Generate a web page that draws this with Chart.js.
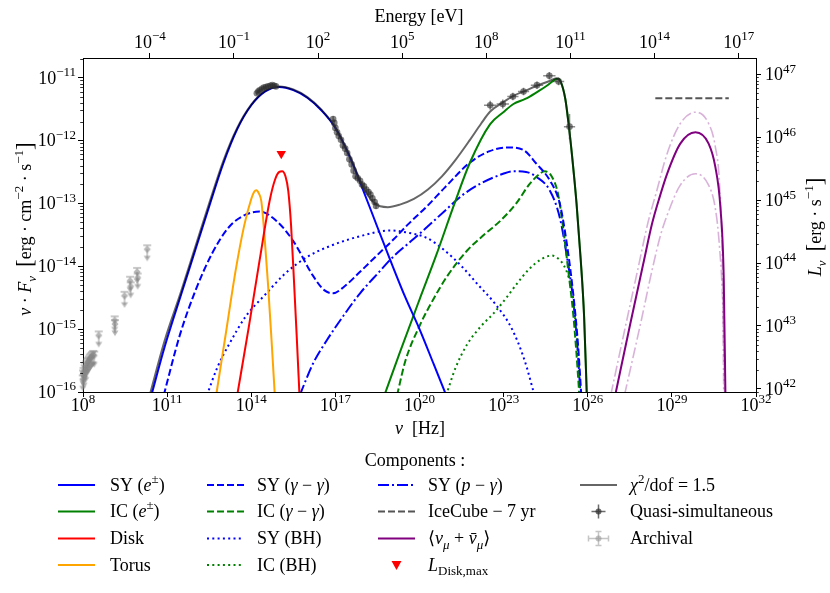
<!DOCTYPE html>
<html>
<head>
<meta charset="utf-8">
<script src="https://cdn.jsdelivr.net/npm/chart.js@4.4.0/dist/chart.umd.min.js"></script>
<style>
  html, body { margin: 0; background: #fff; }
  #wrap { width: 830px; height: 593px; }
</style>
</head>
<body>
<div id="wrap"><canvas id="sed" width="830" height="593"></canvas></div>
<script>
// all values are log10(nu / Hz), log10(nuFnu / erg cm-2 s-1)
const SY_E = [[10.44,-16.05],[10.9,-15.3],[11.5,-14.45],[12.0,-13.75],[12.5,-13.05],[13.0,-12.37],[13.5,-11.82],[14.0,-11.44],[14.5,-11.22],[15.0,-11.15],[15.5,-11.2],[16.0,-11.32],[16.5,-11.52],[17.0,-11.8],[17.5,-12.25],[18.0,-12.8],[18.5,-13.38],[19.0,-13.95],[19.5,-14.5],[20.0,-15.0],[20.5,-15.55],[20.95,-16.05]]
const IC_E = [[18.75,-16.05],[19.3,-15.37],[20.0,-14.53],[20.6,-13.82],[21.25,-13.0],[21.8,-12.35],[22.52,-11.74],[22.99,-11.55],[23.35,-11.42],[23.77,-11.34],[24.19,-11.23],[24.54,-11.13],[24.84,-11.03],[24.95,-11.02],[25.04,-11.07],[25.2,-11.34],[25.31,-11.71],[25.44,-12.24],[25.6,-13.0],[25.75,-13.9],[25.87,-14.8],[25.97,-16.1]]
const DISK = [[13.5,-16.05],[13.9,-15.0],[14.3,-13.9],[14.66,-12.95],[14.85,-12.62],[15.0,-12.5],[15.1,-12.49],[15.22,-12.57],[15.32,-12.8],[15.42,-13.35],[15.52,-14.2],[15.62,-15.1],[15.72,-16.05]]
const TORUS = [[12.75,-16.05],[13.1,-15.05],[13.45,-14.05],[13.75,-13.35],[14.0,-12.93],[14.1,-12.82],[14.18,-12.79],[14.27,-12.84],[14.36,-12.97],[14.47,-13.5],[14.6,-14.3],[14.72,-15.15],[14.84,-16.05]]
const SY_GG = [[10.88,-16.05],[11.45,-15.1],[12.0,-14.4],[12.6,-13.8],[13.2,-13.38],[13.8,-13.18],[14.3,-13.13],[14.9,-13.28],[15.5,-13.6],[16.2,-14.15],[16.6,-14.38],[16.92,-14.43],[17.3,-14.33],[17.9,-14.08],[18.5,-13.82],[19.06,-13.58],[19.6,-13.33],[20.26,-13.05],[20.9,-12.75],[21.8,-12.35],[22.5,-12.17],[23.15,-12.11],[23.7,-12.15],[24.17,-12.37],[24.64,-12.63],[25.0,-13.0],[25.24,-13.6],[25.48,-14.43],[25.65,-15.23],[25.77,-16.05]]
const IC_GG = [[19.2,-16.05],[19.5,-15.5],[20.0,-14.95],[20.5,-14.52],[21.0,-14.15],[21.7,-13.75],[22.3,-13.5],[22.9,-13.27],[23.45,-13.0],[23.93,-12.69],[24.29,-12.53],[24.46,-12.49],[24.7,-12.56],[24.94,-12.85],[25.12,-13.38],[25.3,-14.05],[25.48,-14.75],[25.6,-15.4],[25.7,-16.05]]
const SY_BH = [[12.42,-16.05],[12.8,-15.6],[13.2,-15.25],[13.8,-14.8],[14.5,-14.45],[15.2,-14.12],[16.0,-13.85],[16.8,-13.68],[17.9,-13.52],[18.95,-13.43],[19.5,-13.46],[20.26,-13.55],[20.9,-13.75],[21.5,-14.0],[22.1,-14.3],[22.7,-14.6],[23.3,-15.0],[23.75,-15.5],[24.1,-16.05]]
const IC_BH = [[20.95,-16.05],[21.3,-15.6],[21.69,-15.25],[22.2,-14.95],[22.64,-14.75],[23.1,-14.5],[23.47,-14.28],[23.9,-14.05],[24.3,-13.9],[24.72,-13.83],[25.0,-13.9],[25.14,-13.98],[25.3,-14.15],[25.43,-14.38],[25.53,-14.75],[25.61,-15.1],[25.68,-15.6],[25.73,-16.05]]
const SY_PG = [[15.73,-16.05],[16.2,-15.55],[16.69,-15.18],[17.3,-14.78],[17.88,-14.43],[18.5,-14.12],[19.06,-13.85],[19.7,-13.6],[20.26,-13.38],[20.9,-13.12],[21.5,-12.88],[22.2,-12.68],[22.98,-12.53],[23.33,-12.49],[23.8,-12.5],[24.17,-12.58],[24.64,-12.79],[25.0,-13.22],[25.24,-13.8],[25.48,-14.54],[25.65,-15.39],[25.74,-16.05]]
const TOTAL = [[10.38,-16.05],[10.9,-15.2],[11.5,-14.4],[12.0,-13.7],[12.5,-13.0],[13.0,-12.33],[13.5,-11.8],[14.0,-11.43],[14.5,-11.21],[15.0,-11.14],[15.5,-11.19],[16.0,-11.31],[16.5,-11.51],[17.0,-11.79],[17.5,-12.23],[18.0,-12.75],[18.4,-13.0],[18.87,-13.06],[19.3,-13.02],[19.8,-12.93],[20.3,-12.78],[20.8,-12.57],[21.3,-12.3],[21.8,-11.99],[22.2,-11.73],[22.52,-11.54],[22.99,-11.39],[23.35,-11.29],[23.77,-11.21],[24.19,-11.13],[24.66,-11.05],[24.88,-11.01],[25.04,-11.07],[25.2,-11.34],[25.31,-11.71],[25.44,-12.24],[25.6,-13.0],[25.75,-13.9],[25.87,-14.8],[25.97,-16.1]]
const NU_MEAN = [[26.98,-16.05],[27.5,-14.95],[28.0,-13.92],[28.29,-13.33],[28.53,-12.95],[28.83,-12.53],[29.3,-12.05],[29.84,-11.87],[30.31,-12.05],[30.55,-12.42],[30.73,-13.06],[30.85,-14.2],[30.91,-16.05]]
const NU_HI = [[26.82,-16.05],[27.3,-15.05],[27.8,-14.02],[28.15,-13.3],[28.45,-12.82],[28.83,-12.21],[29.3,-11.73],[29.84,-11.55],[30.31,-11.73],[30.55,-12.1],[30.7,-12.7],[30.8,-14.0],[30.85,-16.05]]
const NU_LO = [[27.31,-16.05],[27.9,-14.88],[28.3,-14.05],[28.6,-13.5],[28.83,-13.19],[29.3,-12.71],[29.84,-12.53],[30.31,-12.71],[30.55,-13.08],[30.7,-13.7],[30.82,-14.7],[30.88,-16.05]]
const ICECUBE = [[28.41,-11.33],[31.03,-11.33]]
const LDISK_MAX = [[15.07,-12.21]]

// quasi-simultaneous data: centre and half error bars (in dex)
const QS_NU = [14.2,14.25,14.3,14.38,14.45,14.52,14.6,14.68,14.75,14.82,14.88,16.92,16.96,17.0,17.06,17.12,17.2,17.27,17.35,17.42,17.5,17.58,17.65,17.72,17.8,17.88,17.95,18.02,18.1,18.18,18.25,18.32,18.4,18.45,22.52,22.97,23.33,23.71,24.19,24.63,24.96,25.35]
const QS_F = [-11.25,-11.22,-11.2,-11.18,-11.16,-11.15,-11.14,-11.13,-11.12,-11.13,-11.14,-11.66,-11.72,-11.8,-11.87,-11.93,-11.99,-12.08,-12.13,-12.2,-12.3,-12.38,-12.48,-12.57,-12.6,-12.64,-12.7,-12.73,-12.78,-12.82,-12.86,-12.92,-12.98,-13.04,-11.44,-11.42,-11.3,-11.22,-11.12,-10.97,-11.06,-11.78]
const QS_DNU = [0,0,0,0,0,0,0,0,0,0,0,0,0,0,0,0,0,0,0,0,0,0,0,0,0,0,0,0,0,0,0,0,0,0,0.22,0.22,0.2,0.2,0.22,0.22,0.2,0.2]
const QS_DF = [0.03,0.03,0.03,0.03,0.03,0.03,0.03,0.03,0.03,0.03,0.03,0.05,0.05,0.05,0.05,0.05,0.05,0.05,0.05,0.05,0.05,0.05,0.05,0.05,0.05,0.05,0.05,0.05,0.05,0.05,0.05,0.05,0.05,0.05,0.07,0.07,0.06,0.06,0.06,0.06,0.06,0.2]

// archival upper limits
const AR_NU = [7.99,8.0,8.02,8.04,8.06,8.08,8.1,8.12,8.15,8.18,8.21,8.24,8.28,8.32,8.36,8.4,8.56,9.13,9.14,9.48,9.68,9.7,9.93,9.95,10.29]
const AR_F = [-15.8,-15.72,-15.68,-15.75,-15.64,-15.6,-15.66,-15.57,-15.54,-15.52,-15.5,-15.47,-15.45,-15.43,-15.41,-15.42,-15.1,-14.86,-14.92,-14.47,-14.23,-14.32,-14.09,-14.18,-13.73]

const NU_TICKS = [8, 11, 14, 17, 20, 23, 26, 29, 32]
const E_TICKS = [-4, -1, 2, 5, 8, 11, 14, 17]
const F_TICKS = [-16, -15, -14, -13, -12, -11]
const L_TICKS = [42, 43, 44, 45, 46, 47]

const H_EV = 4.1357e-15   // eV s
const K_LUM = 8.9e57      // nuFnu -> L_nu
const F_MIN = 1e-16, F_MAX = 2.05e-11

const FONT = '"Liberation Serif", "DejaVu Serif", serif'
const FS = 18

const xy = (arr) => arr.map(([a, b]) => ({ x: 10 ** a, y: 10 ** b }))

function curve(label, data, color, dash, width, order) {
  return {
    label: label,
    data: xy(data),
    showLine: true,
    borderColor: color,
    backgroundColor: color,
    borderWidth: width || 2,
    borderDash: dash || [],
    pointRadius: 0,
    cubicInterpolationMode: "monotone",
    order: order || 5,
  }
}

const DASH = [7, 3]
const DOT = [2, 3.3]
const DASHDOT = [11, 3, 2, 3]

// upper limit marker: small diamond with a caret pointing down
function limitIcon() {
  const c = document.createElement("canvas")
  c.width = 10
  c.height = 26
  const g = c.getContext("2d")
  g.fillStyle = g.strokeStyle = "rgba(135,135,135,0.6)"
  g.lineWidth = 1.4
  g.beginPath()
  g.moveTo(5, 13); g.lineTo(5, 22)
  g.moveTo(1, 9); g.lineTo(9, 9)
  g.stroke()
  g.beginPath()
  g.moveTo(1.5, 19.5); g.lineTo(8.5, 19.5); g.lineTo(5, 25); g.closePath()
  g.fill()
  g.beginPath()
  g.moveTo(5, 9); g.lineTo(8.5, 13); g.lineTo(5, 17); g.lineTo(1.5, 13); g.closePath()
  g.fill()
  return c
}

// error bars as one broken line
const errPts = []
QS_NU.forEach((n, i) => {
  const f = QS_F[i]
  if (QS_DNU[i] > 0) {
    errPts.push({ x: 10 ** (n - QS_DNU[i]), y: 10 ** f }, { x: 10 ** (n + QS_DNU[i]), y: 10 ** f }, { x: 10 ** n, y: NaN })
  }
  errPts.push({ x: 10 ** n, y: 10 ** (f - QS_DF[i]) }, { x: 10 ** n, y: 10 ** (f + QS_DF[i]) }, { x: 10 ** n, y: NaN })
})

const datasets = [
  {
    label: "Quasi-simultaneous",
    data: QS_NU.map((n, i) => ({ x: 10 ** n, y: 10 ** QS_F[i] })),
    pointRadius: 3.3,
    pointBackgroundColor: "rgba(45,45,45,0.6)",
    pointBorderWidth: 0,
    order: 1,
  },
  {
    label: "qs err",
    data: errPts,
    showLine: true,
    spanGaps: false,
    borderColor: "rgba(45,45,45,0.55)",
    borderWidth: 1.5,
    pointRadius: 0,
    order: 1,
  },
  {
    label: "Archival",
    data: AR_NU.map((n, i) => ({ x: 10 ** n, y: 10 ** AR_F[i] })),
    pointStyle: limitIcon(),
    pointRadius: 5,
    clip: 8,
    order: 1,
  },
  {
    label: "L Disk max",
    data: xy(LDISK_MAX),
    pointStyle: "triangle",
    rotation: 180,
    pointRadius: 5.5,
    pointBackgroundColor: "#ff0000",
    pointBorderWidth: 0,
    order: 1,
  },
  curve("total", TOTAL, "rgba(0,0,0,0.6)", [], 2, 2),
  curve("SY e", SY_E, "#0000ff", [], 2, 4),
  curve("IC e", IC_E, "#008000", [], 2, 4),
  curve("Disk", DISK, "#ff0000", [], 2, 4),
  curve("Torus", TORUS, "#ffa500", [], 2, 4),
  curve("SY gg", SY_GG, "#0000ff", DASH, 2, 5),
  curve("IC gg", IC_GG, "#008000", DASH, 2, 5),
  curve("SY BH", SY_BH, "#0000ff", DOT, 2, 5),
  curve("IC BH", IC_BH, "#008000", DOT, 2, 5),
  curve("SY pg", SY_PG, "#0000ff", DASHDOT, 2, 5),
  curve("IceCube", ICECUBE, "#555555", DASH, 2, 5),
  curve("nu hi", NU_HI, "rgba(128,0,128,0.3)", DASHDOT, 1.6, 6),
  curve("nu lo", NU_LO, "rgba(128,0,128,0.3)", DASHDOT, 1.6, 6),
  curve("nu mean", NU_MEAN, "#800080", [], 2, 5),
]

// ---------- text helpers ----------
// parts: [text, flags] with space separated flags: i (italic), sup, sub, big, bar
function drawRich(ctx, parts, x, y, align, rot, size) {
  size = size || FS
  const small = Math.round(size * 0.7)
  let w = 0
  const items = parts.map((p) => {
    const fl = (p[1] || "").split(" ")
    const sc = fl.includes("sup") || fl.includes("sub")
    const px = sc ? small : fl.includes("big") ? Math.round(size * 1.3) : size
    const font = (fl.includes("i") ? "italic " : "") + px + "px " + FONT
    ctx.font = font
    const it = {
      t: p[0],
      font: font,
      bar: fl.includes("bar"),
      w: ctx.measureText(p[0]).width,
      dy: fl.includes("sup") ? -size * 0.42 : fl.includes("sub") ? size * 0.25 : fl.includes("big") ? size * 0.08 : 0,
    }
    w += it.w
    return it
  })
  let cx = align === "center" ? -w / 2 : align === "right" ? -w : 0
  ctx.save()
  ctx.translate(x, y)
  if (rot) ctx.rotate(rot)
  ctx.fillStyle = ctx.strokeStyle = "#000"
  ctx.textBaseline = "alphabetic"
  ctx.textAlign = "left"
  items.forEach((it) => {
    ctx.font = it.font
    ctx.fillText(it.t, cx, it.dy)
    if (it.bar) {
      ctx.lineWidth = 1
      ctx.beginPath()
      ctx.moveTo(cx + it.w * 0.3, it.dy - size * 0.58)
      ctx.lineTo(cx + it.w * 0.95, it.dy - size * 0.58)
      ctx.stroke()
    }
    cx += it.w
  })
  ctx.restore()
}

const expStr = (e) => (e < 0 ? "\u2212" + -e : "" + e)
const pow10 = (e) => [["10"], [expStr(e), "sup"]]

// legend entries: [column, row, label parts, kind, style]
const LEGEND = [
  [0, 0, [["SY ("], ["e", "i"], ["\u00b1", "sup"], [")"]], "line", ["#0000ff", []]],
  [0, 1, [["IC ("], ["e", "i"], ["\u00b1", "sup"], [")"]], "line", ["#008000", []]],
  [0, 2, [["Disk"]], "line", ["#ff0000", []]],
  [0, 3, [["Torus"]], "line", ["#ffa500", []]],
  [1, 0, [["SY ("], ["\u03b3", "i"], [" \u2212 "], ["\u03b3", "i"], [")"]], "line", ["#0000ff", DASH]],
  [1, 1, [["IC ("], ["\u03b3", "i"], [" \u2212 "], ["\u03b3", "i"], [")"]], "line", ["#008000", DASH]],
  [1, 2, [["SY (BH)"]], "line", ["#0000ff", DOT]],
  [1, 3, [["IC (BH)"]], "line", ["#008000", DOT]],
  [2, 0, [["SY ("], ["p", "i"], [" \u2212 "], ["\u03b3", "i"], [")"]], "line", ["#0000ff", DASHDOT]],
  [2, 1, [["IceCube \u2212 7 yr"]], "line", ["#555555", DASH]],
  [2, 2, [["\u27e8"], ["\u03bd", "i"], ["\u03bc", "i sub"], [" + "], ["\u03bd", "i bar"], ["\u03bc", "i sub"], ["\u27e9"]], "line", ["#800080", []]],
  [2, 3, [["L", "i"], ["Disk,max", "sub"]], "tri", ["#ff0000"]],
  [3, 0, [["\u03c7", "i"], ["2", "sup"], ["/dof = 1.5"]], "line", ["rgba(0,0,0,0.6)", []]],
  [3, 1, [["Quasi-simultaneous"]], "qs", ["rgba(45,45,45,0.7)"]],
  [3, 2, [["Archival"]], "ar", ["rgba(140,140,140,0.5)"]],
]
const COL_LINE = [58, 207, 378, 580]
const COL_TEXT = [110, 257, 428, 630]
const ROW_Y = [485, 511.5, 538.5, 565]

const decorations = {
  id: "decorations",
  afterDraw(chart) {
    const ctx = chart.ctx
    const a = chart.chartArea
    const s = chart.scales

    // minor ticks on the two flux axes
    ctx.save()
    ctx.strokeStyle = "#000"
    ctx.lineWidth = 0.8
    ;[["y", a.left, -1], ["y2", a.right, 1]].forEach(([id, x0, dir]) => {
      const sc = s[id]
      const lo = Math.floor(Math.log10(sc.min)), hi = Math.ceil(Math.log10(sc.max))
      for (let e = lo; e <= hi; e++) {
        for (let m = 2; m <= 9; m++) {
          const v = m * 10 ** e
          if (v < sc.min || v > sc.max) continue
          const py = Math.round(sc.getPixelForValue(v)) + 0.5
          ctx.beginPath()
          ctx.moveTo(x0, py)
          ctx.lineTo(x0 + dir * 2.8, py)
          ctx.stroke()
        }
      }
    })
    ctx.restore()

    // tick labels
    NU_TICKS.forEach((e) => drawRich(ctx, pow10(e), s.x.getPixelForValue(10 ** e), a.bottom + 19, "center"))
    E_TICKS.forEach((e) => drawRich(ctx, pow10(e), s.x2.getPixelForValue(10 ** e), a.top - 10, "center"))
    F_TICKS.forEach((e) => drawRich(ctx, pow10(e), a.left - 7, s.y.getPixelForValue(10 ** e) + 6, "right"))
    L_TICKS.forEach((e) => drawRich(ctx, pow10(e), a.right + 9, s.y2.getPixelForValue(10 ** e) + 6, "left"))

    // axis titles
    drawRich(ctx, [["Energy [eV]"]], 419, 22, "center")
    drawRich(ctx, [["\u03bd", "i"], ["  [Hz]"]], 420, 434, "center")
    drawRich(ctx, [["\u03bd", "i"], [" \u00b7 "], ["F", "i"], ["\u03bd", "i sub"], ["  "], ["[", "big"], ["erg \u00b7 cm"], ["\u22122", "sup"], [" \u00b7 s"], ["\u22121", "sup"], ["]", "big"]], 31, 229, "center", -Math.PI / 2)
    drawRich(ctx, [["L", "i"], ["\u03bd", "i sub"], ["  "], ["[", "big"], ["erg \u00b7 s"], ["\u22121", "sup"], ["]", "big"]], 821, 227, "center", -Math.PI / 2)

    // legend
    drawRich(ctx, [["Components :"]], 415, 466, "center")
    LEGEND.forEach(([c, r, parts, kind, st]) => {
      const y = ROW_Y[r]
      const x0 = COL_LINE[c], x1 = x0 + 37
      ctx.save()
      if (kind === "line") {
        ctx.strokeStyle = st[0]
        ctx.lineWidth = 2
        ctx.setLineDash(st[1])
        ctx.beginPath()
        ctx.moveTo(x0, y)
        ctx.lineTo(x1, y)
        ctx.stroke()
      } else if (kind === "tri") {
        const cx = (x0 + x1) / 2
        ctx.fillStyle = st[0]
        ctx.beginPath()
        ctx.moveTo(cx - 5, y - 4)
        ctx.lineTo(cx + 5, y - 4)
        ctx.lineTo(cx, y + 5)
        ctx.closePath()
        ctx.fill()
      } else {
        const cx = (x0 + x1) / 2
        ctx.strokeStyle = st[0]
        ctx.fillStyle = st[0]
        ctx.lineWidth = 1.5
        const hw = kind === "qs" ? 7 : 10
        ctx.beginPath()
        ctx.moveTo(cx - hw, y); ctx.lineTo(cx + hw, y)
        ctx.moveTo(cx, y - 7); ctx.lineTo(cx, y + 7)
        if (kind === "ar") {
          ctx.moveTo(cx - hw, y - 3); ctx.lineTo(cx - hw, y + 3)
          ctx.moveTo(cx + hw, y - 3); ctx.lineTo(cx + hw, y + 3)
          ctx.moveTo(cx - 3, y - 7); ctx.lineTo(cx + 3, y - 7)
          ctx.moveTo(cx - 3, y + 7); ctx.lineTo(cx + 3, y + 7)
        }
        ctx.stroke()
        ctx.beginPath()
        ctx.arc(cx, y, 3, 0, Math.PI * 2)
        ctx.fill()
      }
      ctx.restore()
      drawRich(ctx, parts, COL_TEXT[c], y + 5.5, "left")
    })
  },
}

function logAxis(position, min, max, ticks, size) {
  const horiz = position === "top" || position === "bottom"
  return {
    type: "logarithmic",
    position: position,
    min: min,
    max: max,
    bounds: "data",
    afterBuildTicks: (sc) => {
      sc.ticks = ticks.map((e) => ({ value: 10 ** e }))
    },
    afterFit: (sc) => {
      if (horiz) sc.height = size
      else sc.width = size
    },
    ticks: { display: false },
    grid: { drawOnChartArea: false, drawTicks: true, tickLength: 5, tickColor: "#000", tickWidth: 1, color: "#000" },
    border: { display: true, color: "#000", width: 1 },
  }
}

new Chart(document.getElementById("sed"), {
  type: "scatter",
  data: { datasets: datasets },
  options: {
    responsive: false,
    animation: false,
    layout: { padding: 0, autoPadding: false },
    plugins: { legend: { display: false }, tooltip: { enabled: false } },
    scales: {
      x: logAxis("bottom", 1e8, 1e32, NU_TICKS, 201),
      x2: logAxis("top", 1e8 * H_EV, 1e32 * H_EV, E_TICKS, 58),
      y: logAxis("left", F_MIN, F_MAX, F_TICKS, 83),
      y2: logAxis("right", F_MIN * K_LUM, F_MAX * K_LUM, L_TICKS, 74),
    },
  },
  plugins: [decorations],
})
</script>
</body>
</html>
